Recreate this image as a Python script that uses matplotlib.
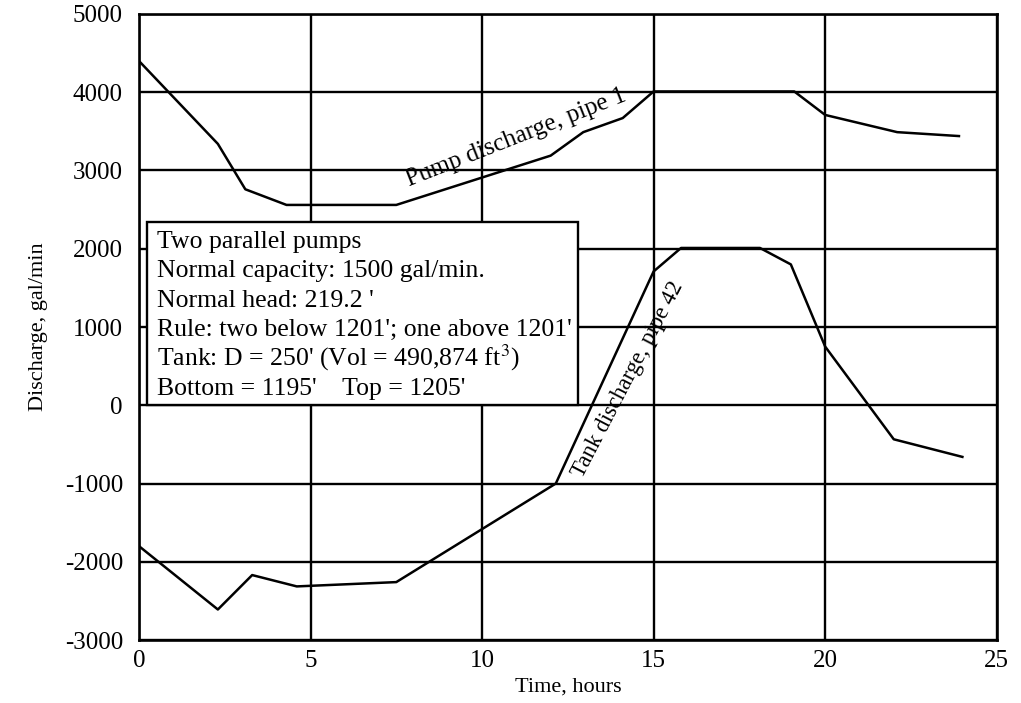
import matplotlib

matplotlib.use("Agg")

import matplotlib.pyplot as plt
from matplotlib.patches import Rectangle

# Pump and tank discharge over one day of operation
pump_hours = [0, 2.3, 3.1, 4.3, 7.5, 12.0, 12.95, 14.1, 15.0, 19.1, 20.0, 22.1, 23.9]
pump_discharge = [4400, 3340, 2760, 2560, 2560, 3190, 3490, 3670, 4010, 4010, 3710, 3490, 3440]

tank_hours = [0, 2.3, 3.3, 4.6, 7.5, 12.15, 15.0, 15.8, 18.1, 19.0, 20.0, 22.0, 24.0]
tank_discharge = [-1800, -2610, -2170, -2315, -2260, -1000, 1710, 2010, 2010, 1800, 750, -435, -660]

x_ticks = [0, 5, 10, 15, 20, 25]
y_ticks = [-3000, -2000, -1000, 0, 1000, 2000, 3000, 4000, 5000]

note_lines = [
    "Two parallel pumps",
    "Normal capacity: 1500 gal/min.",
    "Normal head: 219.2 '",
    "Rule: two below 1201'; one above 1201'",
    "Tank: D = 250' (Vol = 490,874 ft$^3$)",
    "Bottom = 1195'    Top = 1205'",
]

plt.rcParams["font.family"] = ["Liberation Serif", "DejaVu Serif"]
plt.rcParams["mathtext.fontset"] = "stix"
plt.rcParams["axes.unicode_minus"] = False
plt.rcParams["font.size"] = 16

fig = plt.figure(figsize=(10.21, 7.03), dpi=100)
ax = fig.add_axes([0.1361, 0.0896, 0.8401, 0.8905])

line_style = dict(color="black", linewidth=1.8, zorder=3)
ax.plot(pump_hours, pump_discharge, **line_style)
ax.plot(tank_hours, tank_discharge, **line_style)

ax.set_xlim(0, 25)
ax.set_ylim(-3000, 5000)
ax.set_xticks(x_ticks)
ax.set_yticks(y_ticks)
ax.tick_params(length=0, labelsize=18)
ax.tick_params(axis="y", pad=11.5)
ax.tick_params(axis="x", pad=7)
ax.grid(True, color="black", linewidth=1.7)
for spine in ax.spines.values():
    spine.set_linewidth(1.9)

ax.set_xlabel("Time, hours", fontsize=16, labelpad=4)
ax.set_ylabel("Discharge, gal/min", fontsize=16, labelpad=12)

ax.text(11.0, 3420, "Pump discharge, pipe 1", rotation=21.5,
        ha="center", va="center", fontsize=18, rotation_mode="anchor", zorder=4)
ax.text(14.25, 330, "Tank discharge, pipe 42", rotation=62.5,
        ha="center", va="center", fontsize=16.5, rotation_mode="anchor", zorder=4)

# Note box covering the grid on the left side
box = Rectangle((0.0093, 0.375), 0.5027, 0.293, transform=ax.transAxes,
                facecolor="white", edgecolor="black", linewidth=1.7, zorder=2.5)
ax.add_patch(box)
for i, line in enumerate(note_lines):
    ax.text(0.0215, 0.6262 - i * 0.04696, line, transform=ax.transAxes,
            ha="left", va="baseline", fontsize=18.5, zorder=4)

plt.savefig("out.png", dpi=100)
plt.close()
